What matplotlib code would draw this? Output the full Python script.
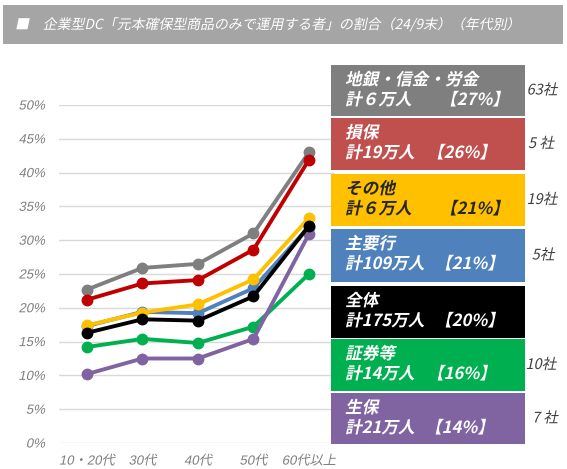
import matplotlib
matplotlib.use("Agg")
import matplotlib.pyplot as plt
from matplotlib.patches import Rectangle
from matplotlib import patheffects
import matplotlib.transforms as mtransforms

plt.rcParams['font.family'] = ['Liberation Sans', 'Noto Sans CJK JP', 'DejaVu Sans']

# ---------------- data ----------------
ages = ["10・20代", "30代", "40代", "50代", "60代以上"]
yticks = [0, 5, 10, 15, 20, 25, 30, 35, 40, 45, 50]

s_chigin = [22.7, 25.9, 26.5, 31.0, 43.0]
s_sonpo = [21.2, 23.6, 24.1, 28.6, 41.9]
s_sonota = [17.4, 19.3, 20.5, 24.2, 33.3]
s_shuyo = [17.3, 19.4, 19.2, 22.9, 32.0]
s_zentai = [16.3, 18.3, 18.1, 21.7, 32.1]
s_shoken = [14.2, 15.4, 14.8, 17.2, 25.0]
s_seiho = [10.2, 12.5, 12.5, 15.4, 30.9]

box_names = ["地銀・信金・労金", "損保", "その他", "主要行", "全体", "証券等", "生保"]
box_people = ["計６万人", "計19万人", "計６万人", "計109万人", "計175万人", "計14万人", "計21万人"]
box_pcts = ["【27%】", "【26%】", "【21%】", "【21%】", "【20%】", "【16%】", "【14%】"]
box_companies = ["63社", "5 社", "19社", "5社", "", "10社", "7 社"]

title = "■　企業型DC「元本確保型商品のみで運用する者」の割合（24/9末）（年代別）"

# ---------------- styling ----------------
series = [s_chigin, s_sonpo, s_shuyo, s_sonota, s_shoken, s_seiho, s_zentai]
line_colors = ["#7f7f7f", "#c00000", "#4f81bd", "#ffc000", "#00b050", "#8064a2", "#000000"]

box_colors = ["#7f7f7f", "#c0504d", "#ffc000", "#4f81bd", "#000000", "#00b050", "#8064a2"]
box_text_colors = ["white", "white", "#262626", "white", "white", "white", "white"]


class Slant(patheffects.AbstractPathEffect):
    """Oblique look for fonts without an italic face."""
    def __init__(self, deg=12):
        super().__init__()
        self.deg = deg

    def draw_path(self, renderer, gc, tpath, affine, rgbFace=None):
        renderer.draw_path(gc, tpath, mtransforms.Affine2D().skew_deg(self.deg, 0) + affine, rgbFace)


SL = [Slant(12)]

W, H = 567, 469
fig = plt.figure(figsize=(W / 100, H / 100), dpi=100)


def fx(px):
    return px / W


def fy(py):
    return 1 - py / H


# title band
fig.patches.append(Rectangle((fx(3), fy(44)), fx(560), 39 / H, transform=fig.transFigure,
                             facecolor="#a5a5a5", edgecolor="none", zorder=0))
fig.text(fx(15), fy(24.5), title, color="white", fontsize=10.0, va="center", ha="left",
         family=['Noto Sans CJK JP'], path_effects=SL)

# axes
ax = fig.add_axes([fx(59), fy(443), fx(276), 338 / H])
x = list(range(len(ages)))
for s, c in zip(series, line_colors):
    ax.plot(x, s, color=c, lw=2.8, marker="o", ms=7.5, clip_on=False, zorder=3)

ax.set_xlim(-0.505, 4.47)
ax.set_ylim(0, 50)
ax.set_yticks(yticks)
ax.set_yticklabels([f"{v}%" for v in yticks])
ax.set_xticks(x)
ax.set_xticklabels(ages)
ax.grid(axis="y", color="#d9d9d9", lw=1)
ax.set_axisbelow(True)
for sp in ax.spines.values():
    sp.set_visible(False)
ax.tick_params(length=0, colors="#7f7f7f", labelsize=9.5)
ax.tick_params(axis="y", pad=10)
ax.tick_params(axis="x", pad=9)
for lab in ax.get_xticklabels() + ax.get_yticklabels():
    lab.set_path_effects(SL)

# legend boxes
box_tops = [65, 118, 174, 229, 286, 339, 393]
box_bottoms = [116, 170, 226, 282, 338, 391, 444]
pct_x = [440, 427, 440, 435, 435, 427, 425]
comp_x = [542, 541, 542, 543, 0, 541, 545]
for i in range(len(box_names)):
    t, b = box_tops[i], box_bottoms[i]
    fig.patches.append(Rectangle((fx(331), fy(b)), fx(194), (b - t) / H, transform=fig.transFigure,
                                 facecolor=box_colors[i], edgecolor="none", zorder=5))
    tc = box_text_colors[i]
    kw = dict(color=tc, fontsize=12, fontweight="bold", va="center", ha="left",
              family=['Noto Sans CJK JP'], zorder=6, path_effects=SL)
    fig.text(fx(345), fy(t + 15), box_names[i], **kw)
    fig.text(fx(345), fy(t + 35), box_people[i], **kw)
    fig.text(fx(pct_x[i]), fy(t + 35), box_pcts[i], **kw)
    if box_companies[i]:
        fig.text(fx(comp_x[i]), fy((t + b) / 2), box_companies[i], color="#404040", fontsize=10.5,
                 va="center", ha="center", family=['Noto Sans CJK JP'], zorder=6, path_effects=SL)

fig.savefig("out.png", dpi=100)
